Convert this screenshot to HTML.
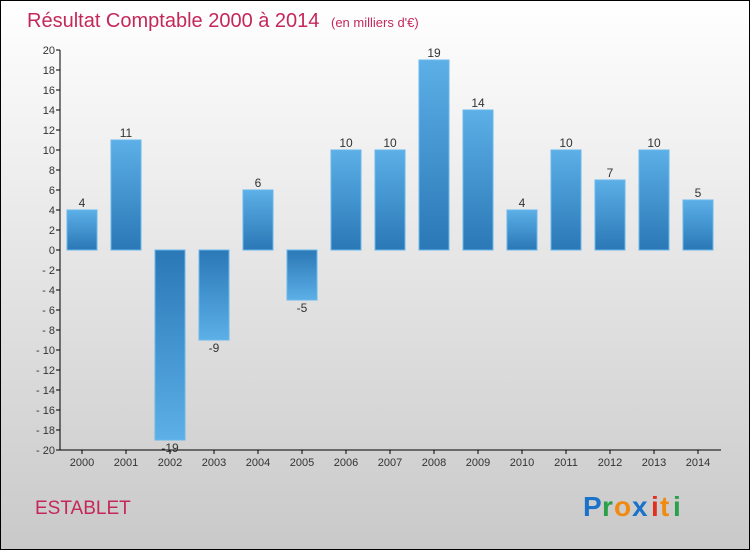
<!DOCTYPE html>
<html><head><meta charset="utf-8"><style>
body{margin:0;width:750px;height:550px;overflow:hidden;font-family:"Liberation Sans",sans-serif}
#wrap{position:absolute;left:0;top:0;width:748px;height:548px;border:1px solid #000;background:linear-gradient(#ffffff,#f4f4f4 20%,#c9c9c9)}
</style></head><body>
<div id="wrap">
<svg width="750" height="550" style="position:absolute;left:-1px;top:-1px">
<defs>
<linearGradient id="gp" x1="0" y1="0" x2="0" y2="1"><stop offset="0" stop-color="#5cafe7"/><stop offset="1" stop-color="#2a78b6"/></linearGradient>
<linearGradient id="gn" x1="0" y1="0" x2="0" y2="1"><stop offset="0" stop-color="#2a78b6"/><stop offset="1" stop-color="#5cafe7"/></linearGradient>
</defs>
<text x="27" y="27" font-size="20" fill="#c4285a">Résultat Comptable 2000 à 2014 <tspan font-size="13" dx="6">(en milliers d'€)</tspan></text>
<g id="axes"></g><g id="bars"></g>
<text x="35" y="514" font-size="19" fill="#c4285a">ESTABLET</text>
<g font-size="28" font-weight="bold">
<text x="583" y="516" fill="#1a73c9">P</text><text x="602" y="516" fill="#2aa04a">r</text><text x="614" y="516" fill="#f08a10">o</text><text x="632" y="516" fill="#1a73c9">x</text><text x="651" y="516" fill="#e03020">i</text><text x="660" y="516" fill="#f08a10">t</text><text x="673" y="516" fill="#2aa04a">i</text>
</g>
</svg></div>
<script>
const years=["2000","2001","2002","2003","2004","2005","2006","2007","2008","2009","2010","2011","2012","2013","2014"];
const values=[4,11,-19,-9,6,-5,10,10,19,14,4,10,7,10,5];
const yTicks=[20,18,16,14,12,10,8,6,4,2,0,-2,-4,-6,-8,-10,-12,-14,-16,-18,-20];
const NS="http://www.w3.org/2000/svg";
const x0=60,x1=721,band=44,yMin=-20,yMax=20,yTop=50,yBot=450;
const y=v=>yTop+(yMax-v)/(yMax-yMin)*(yBot-yTop);
const xc=i=>x0+22+i*band;
function mk(t,a,p){const e=document.createElementNS(NS,t);for(const k in a)e.setAttribute(k,a[k]);p.appendChild(e);return e;}
const ax=document.getElementById('axes'),bg=document.getElementById('bars');
let l=mk('line',{x1:x0,y1:yTop,x2:x0,y2:yBot,stroke:'#000'},ax);


l=mk('line',{x1:x0,y1:yBot,x2:x1,y2:yBot,stroke:'#000'},ax);


yTicks.forEach(v=>{mk('line',{x1:x0-4,y1:y(v),x2:x0,y2:y(v),stroke:'#000'},ax);
const t=mk('text',{x:x0-5,y:y(v)+4,'font-size':11,fill:'#333','text-anchor':'end'},ax);t.textContent=v<0?'- '+(-v):v;

});
years.forEach((yr,i)=>{const c=xc(i);mk('line',{x1:c,y1:yBot,x2:c,y2:yBot+4,stroke:'#000'},ax);
const t=mk('text',{x:c,y:yBot+16,'font-size':11,fill:'#333','text-anchor':'middle'},ax);t.textContent=yr;


const v=values[i],ya=y(Math.max(v,0)),yb=y(Math.min(v,0));
const r=mk('rect',{x:c-15,y:ya,width:30,height:yb-ya,fill:v>=0?'url(#gp)':'url(#gn)',stroke:'#6ab8ee','stroke-width':1},bg);


const lb=mk('text',{x:c,y:v>=0?y(v)-3:y(v)+12,'font-size':12,fill:'#333','text-anchor':'middle'},bg);lb.textContent=v<0?'-'+(-v):v;

});
</script></body></html>
